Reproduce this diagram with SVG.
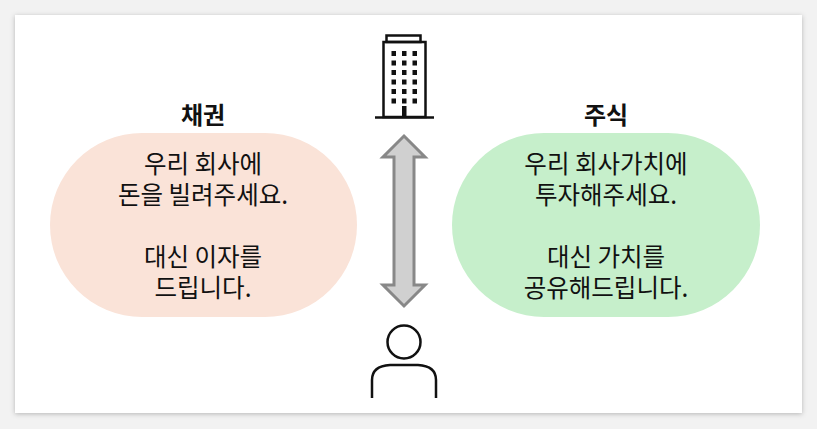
<svg xmlns="http://www.w3.org/2000/svg" width="817" height="429" viewBox="0 0 817 429">
<defs><filter id="sh" x="-5%" y="-5%" width="110%" height="110%"><feDropShadow dx="0" dy="1" stdDeviation="2.5" flood-color="#000" flood-opacity="0.25"/></filter>
<style>text{font-family:"Noto Sans CJK KR","Noto Sans",sans-serif;font-size:24.5px;fill:#111;text-anchor:middle}.t{font-weight:bold;font-size:24px}.k{fill:none;stroke:#111;stroke-width:2.5}</style></defs>
<rect width="817" height="429" fill="#f2f2f2"/>
<rect x="15" y="15" width="787" height="398" fill="#fff" filter="url(#sh)"/>
<g id="building">
<rect x="386.5" y="35.5" width="34" height="6.5" class="k"/>
<rect x="383.5" y="42" width="42" height="75" class="k"/>
<line x1="375" y1="117.5" x2="434" y2="117.5" class="k"/>
<g fill="#111">
<rect x="391.5" y="51" width="4.5" height="5"/><rect x="402" y="51" width="4.5" height="5"/><rect x="412.5" y="51" width="4.5" height="5"/>
<rect x="391.5" y="60.5" width="4.5" height="5"/><rect x="402" y="60.5" width="4.5" height="5"/><rect x="412.5" y="60.5" width="4.5" height="5"/>
<rect x="391.5" y="70" width="4.5" height="5"/><rect x="402" y="70" width="4.5" height="5"/><rect x="412.5" y="70" width="4.5" height="5"/>
<rect x="391.5" y="79.5" width="4.5" height="5"/><rect x="402" y="79.5" width="4.5" height="5"/><rect x="412.5" y="79.5" width="4.5" height="5"/>
<rect x="391.5" y="89" width="4.5" height="5"/><rect x="402" y="89" width="4.5" height="5"/><rect x="412.5" y="89" width="4.5" height="5"/>
<rect x="391.5" y="98.5" width="4.5" height="5"/><rect x="402" y="98.5" width="4.5" height="5"/><rect x="412.5" y="98.5" width="4.5" height="5"/>
<rect x="402" y="106" width="4.5" height="11"/>
</g></g>
<g id="connectors">
<polygon points="404,136 425,157 414,157 414,285 425,285 404,306 383,285 394,285 394,157 383,157" fill="#d0d0d0" stroke="#888" stroke-width="3" stroke-linejoin="miter"/>
</g>
<g id="person">
<circle cx="404" cy="342" r="16.5" class="k"/>
<path d="M372,398 V380 Q372,366 390,365 H418 Q436,366 436,380 V398" class="k"/>
</g>
<g id="bond">
<text x="203" y="124" class="t">채권</text>
<rect x="50" y="133" width="307" height="184" rx="92" fill="#fae3d8"/>
<text x="203" y="173">우리 회사에</text>
<text x="203" y="204">돈을 빌려주세요.</text>
<text x="203" y="266">대신 이자를</text>
<text x="203" y="297">드립니다.</text>
</g>
<g id="stock">
<text x="606" y="124" class="t">주식</text>
<rect x="452" y="133" width="308" height="184" rx="92" fill="#c6efcb"/>
<text x="606" y="173">우리 회사가치에</text>
<text x="606" y="204">투자해주세요.</text>
<text x="606" y="266">대신 가치를</text>
<text x="606" y="297">공유해드립니다.</text>
</g>
</svg>
